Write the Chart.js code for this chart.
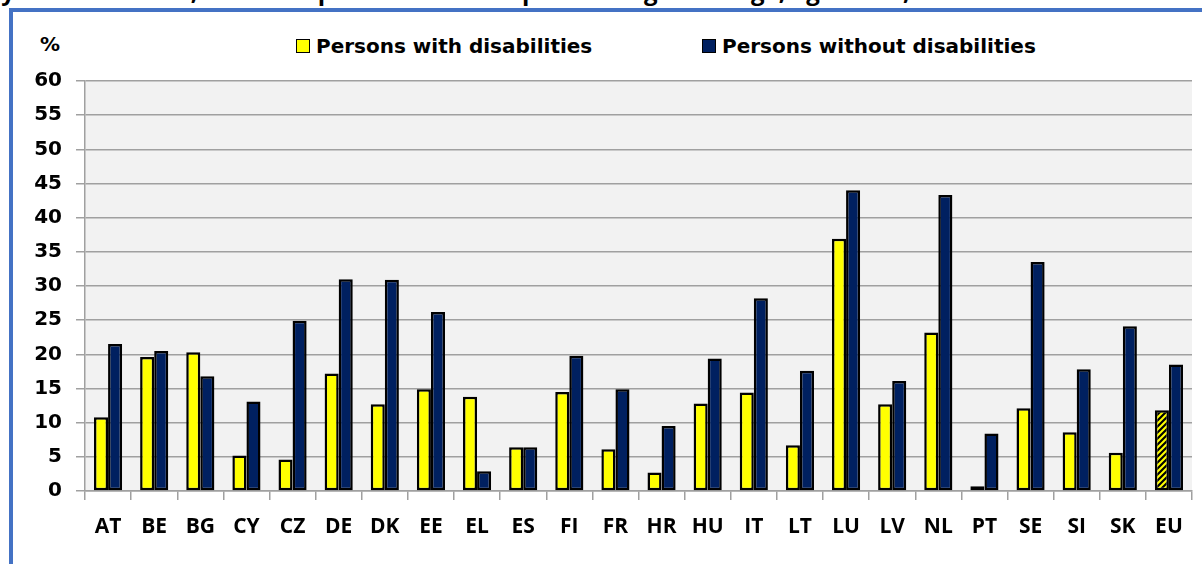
<!DOCTYPE html>
<html>
<head>
<meta charset="utf-8">
<script src="https://cdn.jsdelivr.net/npm/chart.js@4.4.0/dist/chart.umd.min.js"></script>
<style>
  html, body { margin:0; padding:0; background:#fff; overflow:hidden; }
  body { width:1202px; height:564px; position:relative; font-family:"DejaVu Sans", sans-serif; }
  #frame { position:absolute; left:9px; top:8px; width:1300px; height:700px;
           border-left:4px solid #4472C4; border-top:4px solid #4472C4; }
  #title { position:absolute; left:-14px; top:-26px; white-space:nowrap;
           font:bold 24px "Open Sans", sans-serif; color:#000; }
  #pct { position:absolute; left:40px; top:32px; font:bold 20px "DejaVu Sans", sans-serif; }
  .leg { position:absolute; top:34px; font:bold 20px "DejaVu Sans", sans-serif; white-space:nowrap; }
  .leg span.box { display:inline-block; width:12px; height:12px; border:1.5px solid #000;
                  vertical-align:middle; margin-right:6px; position:relative; top:-2px; }
  #wrap { position:absolute; left:0; top:0; width:1202px; height:564px; }
</style>
</head>
<body>
<div id="title">by Member State, based on persons who are performing challenge, age 16-64, 2019</div>
<div id="frame"></div>
<div id="pct">%</div>
<div class="leg" style="left:296px"><span class="box" style="background:#FFFF00"></span>Persons with disabilities</div>
<div class="leg" style="left:702px"><span class="box" style="background:#002060"></span>Persons without disabilities</div>
<div id="wrap"><canvas id="myBarChart" width="1202" height="564"></canvas></div>
<script>
const countries = ["AT","BE","BG","CY","CZ","DE","DK","EE","EL","ES","FI","FR","HR","HU","IT","LT","LU","LV","NL","PT","SE","SI","SK","EU"];
const withDisabilities = [10.8,19.6,20.3,5.2,4.6,17.2,12.7,14.9,13.8,6.4,14.5,6.1,2.7,12.8,14.4,6.7,36.9,12.7,23.2,0.7,12.1,8.6,5.6,11.8];
const withoutDisabilities = [21.5,20.5,16.8,13.1,24.9,31.0,30.9,26.2,2.9,6.4,19.8,14.9,9.5,19.4,28.2,17.6,44.0,16.1,43.3,8.4,33.5,17.8,24.1,18.5];
const yMin = 0, yMax = 60, yStep = 5;

// hatch for the EU bar
function makeHatch(){
    const c = document.createElement("canvas");
    c.width = 6; c.height = 6;
    const g = c.getContext("2d");
    g.fillStyle = "#FFFF00";
    g.fillRect(0,0,6,6);
    g.strokeStyle = "#000";
    g.lineWidth = 2.2;
    g.beginPath();
    g.moveTo(-1,7); g.lineTo(7,-1);
    g.moveTo(-4,4); g.lineTo(4,-4);
    g.moveTo(2,10); g.lineTo(10,2);
    g.stroke();
    return g.createPattern(c,"repeat");
}
const hatch = makeHatch();
const yellowFill = withDisabilities.map((v,i)=> countries[i]==="EU" ? hatch : "#FFFF00");

const plotBg = {
    id:"plotBg",
    beforeDraw(chart){
        const a = chart.chartArea, ctx = chart.ctx;
        ctx.save();
        ctx.fillStyle = "#F2F2F2";
        ctx.fillRect(a.left, a.top, a.right-a.left, a.bottom-a.top);
        ctx.restore();
    }
};

Chart.defaults.font.family = "'Open Sans', sans-serif";
Chart.defaults.color = "#000";

const ctx = document.getElementById("myBarChart");
const myBarChart = new Chart(ctx, {
    type:"bar",
    data:{
        labels: countries,
        datasets:[
            { label:"Persons with disabilities", data:withDisabilities, backgroundColor:yellowFill,
              borderColor:"#000", borderWidth:2.5, borderSkipped:false },
            { label:"Persons without disabilities", data:withoutDisabilities, backgroundColor:"#002060",
              borderColor:"#000", borderWidth:2.5, borderSkipped:false }
        ]
    },
    options:{
        responsive:false,
        animation:false,
        layout:{ padding:{ left:0, right:10, top:81, bottom:0 } },
        plugins:{ legend:{display:false}, tooltip:{enabled:false}, title:{display:false} },
        datasets:{ bar:{ categoryPercentage:0.61, barPercentage:1.0 } },
        scales:{
            x:{
                grid:{ display:true, drawOnChartArea:false, offset:true, tickLength:9, color:"#A0A0A0", lineWidth:1.5 },
                border:{ color:"#A0A0A0", width:1.5 },
                ticks:{ font:{ size:21, weight:"bold" }, padding:14, maxRotation:0, autoSkip:false },
                afterFit(s){ s.height = 73; }
            },
            y:{
                min:yMin, max:yMax,
                grid:{ color:"#A0A0A0", lineWidth:1.5, tickLength:9 },
                border:{ color:"#A0A0A0", width:1.5 },
                ticks:{ stepSize:yStep, font:{ family:"'DejaVu Sans', sans-serif", size:20, weight:"bold" }, padding:14 },
                afterFit(s){ s.width = 85; }
            }
        }
    },
    plugins:[plotBg]
});
</script>
</body>
</html>
